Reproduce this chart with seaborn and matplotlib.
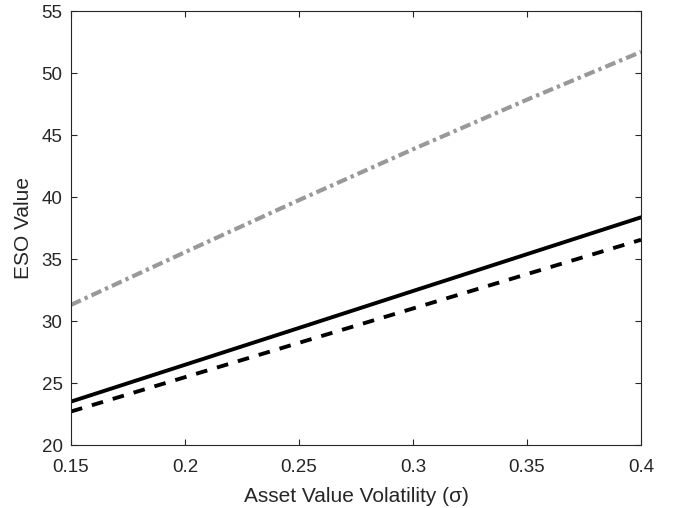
import matplotlib
matplotlib.use("Agg")
import matplotlib.pyplot as plt
import seaborn as sns
import pandas as pd

sigma = [0.15, 0.20, 0.25, 0.30, 0.35, 0.40]
eso_gray = [31.3, 35.55, 39.75, 43.85, 47.85, 51.7]
eso_solid = [23.5, 26.47, 29.44, 32.42, 35.39, 38.36]
eso_dashed = [22.7, 25.47, 28.24, 31.01, 33.78, 36.55]

xticks = [0.15, 0.2, 0.25, 0.3, 0.35, 0.4]
xtick_labels = ["0.15", "0.2", "0.25", "0.3", "0.35", "0.4"]
yticks = [20, 25, 30, 35, 40, 45, 50, 55]

sns.set_theme(style="ticks")
plt.rcParams['font.family'] = ['Liberation Sans', 'DejaVu Sans']

fig = plt.figure(figsize=(6.73, 5.08), dpi=100)
ax = fig.add_axes([71/673, 63/508, 570/673, 434/508])

df = pd.DataFrame({"sigma": sigma, "gray": eso_gray, "solid": eso_solid, "dashed": eso_dashed})

lw = 2.8
sns.lineplot(data=df, x="sigma", y="gray", ax=ax, color="#999999", linewidth=3.0,
             linestyle=(0, (2.6, 1.0, 0.8, 1.0)))
sns.lineplot(data=df, x="sigma", y="solid", ax=ax, color="black", linewidth=lw)
sns.lineplot(data=df, x="sigma", y="dashed", ax=ax, color="black", linewidth=lw,
             linestyle=(0, (3.0, 2.6)))

ax.set_xlim(0.15, 0.4)
ax.set_ylim(20, 55)
ax.set_xticks(xticks)
ax.set_xticklabels(xtick_labels)
ax.set_yticks(yticks)

axcol = "#262626"
for s in ax.spines.values():
    s.set_visible(True)
    s.set_color(axcol)
    s.set_linewidth(0.8)
ax.tick_params(direction="in", length=4.5, width=0.8, color=axcol, labelcolor=axcol,
               labelsize=13.5, top=True, right=True, pad=6)
ax.tick_params(axis="x", pad=10)
ax.set_xlabel("Asset Value Volatility (σ)", fontsize=15, color=axcol, labelpad=8)
ax.set_ylabel("ESO Value", fontsize=15, color=axcol, labelpad=6)

fig.savefig("out.png", dpi=100)
